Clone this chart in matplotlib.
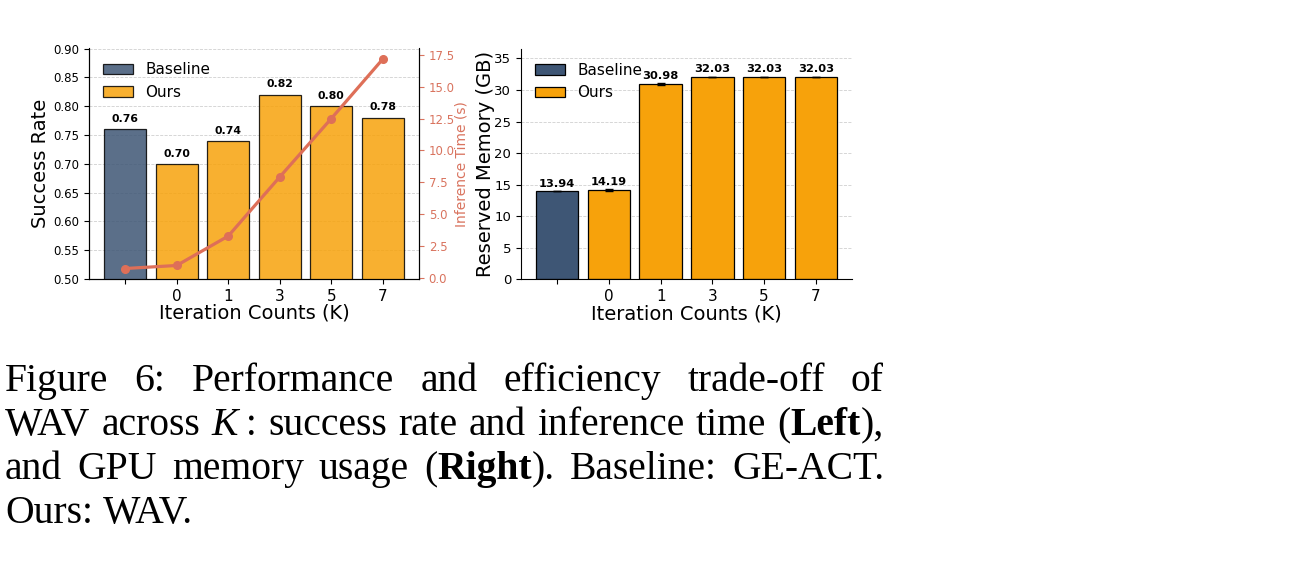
import matplotlib
matplotlib.use("Agg")
import matplotlib.pyplot as plt
import numpy as np

# ---------------- data ----------------
categories = ['', '0', '1', '3', '5', '7']
series_names = ['Baseline', 'Ours']
success_rate = [0.76, 0.70, 0.74, 0.82, 0.80, 0.78]
inference_time = [0.71, 0.95, 3.26, 7.91, 12.5, 17.18]
memory_gb = [13.94, 14.19, 30.98, 32.03, 32.03, 32.03]
memory_err = [0.0, 0.12, 0.12, 0.0, 0.0, 0.0]
left_yticks = [0.50, 0.55, 0.60, 0.65, 0.70, 0.75, 0.80, 0.85, 0.90]
time_yticks = [0.0, 2.5, 5.0, 7.5, 10.0, 12.5, 15.0, 17.5]
mem_yticks = [0, 5, 10, 15, 20, 25, 30, 35]

caption_lines = [
    [[("Figure", "normal", "normal")], [("6:", "normal", "normal")],
     [("Performance", "normal", "normal")], [("and", "normal", "normal")],
     [("efficiency", "normal", "normal")], [("trade-off", "normal", "normal")],
     [("of", "normal", "normal")]],
    [[("WAV", "normal", "normal")], [("across", "normal", "normal")],
     [("K", "normal", "italic"), ("\u2009:", "normal", "normal")],
     [("success", "normal", "normal")], [("rate", "normal", "normal")],
     [("and", "normal", "normal")], [("inference", "normal", "normal")],
     [("time", "normal", "normal")],
     [("(", "normal", "normal"), ("Left", "bold", "normal"), ("),", "normal", "normal")]],
    [[("and", "normal", "normal")], [("GPU", "normal", "normal")],
     [("memory", "normal", "normal")], [("usage", "normal", "normal")],
     [("(", "normal", "normal"), ("Right", "bold", "normal"), (").", "normal", "normal")],
     [("Baseline:", "normal", "normal")], [("GE-ACT.", "normal", "normal")]],
    [[("Ours:", "normal", "normal")], [("WAV.", "normal", "normal")]],
]

# ---------------- style ----------------
W, H = 1310, 570
BASE_C = '#3E5675'
OURS_C = '#F7A20B'
LINE_C = '#DE6F58'
TICK_C = '#D9735E'

fig = plt.figure(figsize=(W / 100, H / 100), dpi=100)

x = np.arange(len(categories))
colors = [BASE_C] + [OURS_C] * (len(categories) - 1)

# ---------------- left panel ----------------
ax1 = fig.add_axes([89 / W, 1 - 279 / H, 330 / W, 230.5 / H])
bars = ax1.bar(x, success_rate, width=0.82, color=colors, edgecolor='black',
               linewidth=0.9, alpha=0.85, zorder=2)
ax1.set_ylim(0.5, 0.9)
ax1.set_yticks(left_yticks)
ax1.set_yticklabels([f"{v:.2f}" for v in left_yticks], fontsize=8.5)
ax1.set_xticks(x)
ax1.set_xticklabels(categories, fontsize=11)
ax1.set_ylabel('Success Rate', fontsize=14)
ax1.yaxis.set_label_coords(-0.118, 0.5)
ax1.set_xlabel('Iteration Counts (K)', fontsize=14, labelpad=0)
ax1.set_axisbelow(True)
ax1.grid(axis='y', linestyle='--', color='#d0d0d0', linewidth=0.6)
ax1.spines['top'].set_visible(False)
for xi, v in zip(x, success_rate):
    ax1.text(xi, v + 0.009, f"{v:.2f}", ha='center', va='bottom',
             fontsize=7.8, fontweight='bold')
ax1.legend([bars[0], bars[1]], series_names, loc='upper left', frameon=False,
           fontsize=11, bbox_to_anchor=(0.0, 1.0))

ax1t = ax1.twinx()
ax1t.plot(x, inference_time, color=LINE_C, linewidth=2.3, marker='o',
          markersize=5.5, zorder=3)
ax1t.set_yticks(time_yticks)
ax1t.set_yticklabels([f"{v:.1f}" for v in time_yticks], fontsize=8.5)
ax1t.tick_params(axis='y', colors=TICK_C)
ax1t.set_ylabel('Inference Time (s)', color=TICK_C, fontsize=10)
ax1t.yaxis.set_label_coords(1.108, 0.5)
ax1t.spines['top'].set_visible(False)
ax1t.spines['right'].set_color('black')

# ---------------- right panel ----------------
ax2 = fig.add_axes([521 / W, 1 - 279.3 / H, 331 / W, 230.3 / H])
bars2 = ax2.bar(x, memory_gb, width=0.82, color=colors, edgecolor='black',
                linewidth=0.9, zorder=2, yerr=memory_err, capsize=3,
                error_kw=dict(elinewidth=1, ecolor='black', capthick=1))
ax2.set_ylim(0, 36.5)
ax2.set_yticks(mem_yticks)
ax2.set_yticklabels([str(v) for v in mem_yticks], fontsize=9.5)
ax2.set_xticks(x)
ax2.set_xticklabels(categories, fontsize=11)
ax2.set_ylabel('Reserved Memory (GB)', fontsize=14)
ax2.yaxis.set_label_coords(-0.078, 0.5)
ax2.set_xlabel('Iteration Counts (K)', fontsize=14, labelpad=0)
ax2.set_axisbelow(True)
ax2.grid(axis='y', linestyle='--', color='#d0d0d0', linewidth=0.6)
ax2.spines['top'].set_visible(False)
ax2.spines['right'].set_visible(False)
for xi, v in zip(x, memory_gb):
    ax2.text(xi, v + 0.45, f"{v:.2f}", ha='center', va='bottom',
             fontsize=8.2, fontweight='bold')
ax2.legend([bars2[0], bars2[1]], series_names, loc='upper left', frameon=False,
           fontsize=11, bbox_to_anchor=(0.0, 1.0))

# ---------------- caption (justified) ----------------
renderer = fig.canvas.get_renderer()
FS = 28.5
X0, X1 = 5, 884
baselines = [391, 435, 479, 523]


def place_line(words, y_px, justify):
    arts, widths = [], []
    for word in words:
        wa, ww = [], 0.0
        for txt, wt, st in word:
            t = fig.text(0, 1 - y_px / H, txt, fontsize=FS,
                         family=['Liberation Serif', 'DejaVu Serif'],
                         weight=wt, style=st, va='baseline', ha='left')
            w = t.get_window_extent(renderer).width
            wa.append((t, w))
            ww += w
        arts.append(wa)
        widths.append(ww)
    if justify and len(words) > 1:
        gap = (X1 - X0 - sum(widths)) / (len(words) - 1)
    else:
        gap = FS * 0.25 * 100 / 72
    xp = X0
    for wa in arts:
        for t, w in wa:
            t.set_x(xp / W)
            xp += w
        xp += gap


for i, (line, yb) in enumerate(zip(caption_lines, baselines)):
    place_line(line, yb, justify=(i < len(caption_lines) - 1))

fig.savefig('out.png', dpi=100)
